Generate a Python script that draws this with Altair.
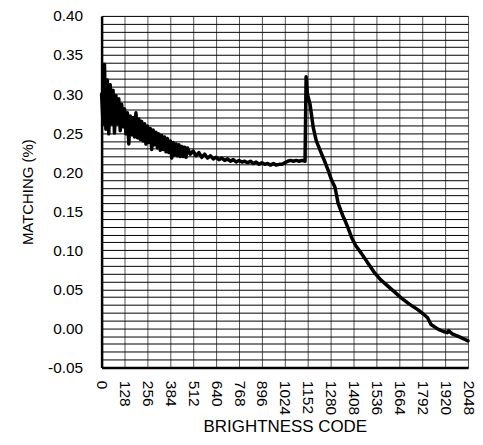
import altair as alt
import pandas as pd

# Brightness code (x) and matching (%) values
codes = [
    0, 8, 16, 24, 32, 40, 48, 56, 64, 72, 80, 88, 96, 104, 112, 120, 128, 136, 144, 152,
    160, 168, 176, 184, 192, 200, 208, 216, 224, 232, 240, 248, 256, 264, 272, 280, 288, 296,
    304, 312, 320, 328, 336, 344, 352, 360, 368, 376, 384, 392, 400, 408, 416, 424, 432, 440,
    448, 456, 464, 472, 480,
    496, 512, 528, 544, 560, 576, 592, 608, 624, 640, 656, 672, 688, 704, 720, 736, 752, 768,
    784, 800, 816, 832, 848, 864, 880, 896, 912, 928, 944, 960, 976, 992, 1008, 1024, 1040,
    1056, 1072, 1088, 1104, 1120, 1137,
    1143, 1150, 1165, 1183, 1200, 1230, 1250, 1267, 1285, 1304, 1322, 1350, 1359, 1380, 1396,
    1420, 1452, 1490, 1526, 1560, 1600, 1640, 1674, 1720, 1767, 1800, 1822, 1841, 1880, 1910,
    1933, 1940, 1960, 2000, 2048,
]
matching = [
    0.300, 0.262, 0.338, 0.255, 0.318, 0.249, 0.312, 0.262, 0.305, 0.250, 0.298, 0.262, 0.294,
    0.253, 0.287, 0.258, 0.281, 0.249, 0.276, 0.236, 0.272, 0.248, 0.270, 0.245, 0.276, 0.244,
    0.268, 0.242, 0.265, 0.240, 0.262, 0.236, 0.259, 0.238, 0.256, 0.229, 0.254, 0.235, 0.251,
    0.231, 0.249, 0.228, 0.247, 0.229, 0.245, 0.226, 0.243, 0.225, 0.240, 0.218, 0.238, 0.222,
    0.236, 0.221, 0.235, 0.220, 0.233, 0.220, 0.232, 0.219, 0.231,
    0.223, 0.227, 0.221, 0.225, 0.219, 0.223, 0.218, 0.221, 0.217, 0.219, 0.216, 0.218, 0.215,
    0.217, 0.214, 0.216, 0.213, 0.215, 0.213, 0.214, 0.212, 0.214, 0.211, 0.213, 0.210, 0.212,
    0.210, 0.211, 0.209, 0.211, 0.209, 0.210, 0.210, 0.212, 0.214, 0.215, 0.214, 0.215, 0.214,
    0.215, 0.214,
    0.322, 0.300, 0.287, 0.257, 0.240, 0.223, 0.212, 0.202, 0.190, 0.181, 0.160, 0.143, 0.139,
    0.127, 0.117, 0.106, 0.096, 0.083, 0.071, 0.062, 0.054, 0.046, 0.039, 0.031, 0.024, 0.018,
    0.0136, 0.005, -0.001, -0.004, -0.0055, -0.003, -0.007, -0.011, -0.016,
]

x_ticks = [0, 128, 256, 384, 512, 640, 768, 896, 1024, 1152, 1280, 1408, 1536, 1664, 1792, 1920, 2048]
y_grid = [round(-0.05 + 0.01 * i, 2) for i in range(46)]

df = pd.DataFrame({"code": codes, "matching": matching})

FONT = "Liberation Sans"
MINUS = "\u2212"

chart = (
    alt.Chart(df)
    .mark_line(color="black", strokeWidth=3.5, strokeJoin="round", strokeCap="round")
    .encode(
        x=alt.X(
            "code:Q",
            scale=alt.Scale(domain=[0, 2048], nice=False, zero=False),
            axis=alt.Axis(
                title="BRIGHTNESS CODE",
                values=x_ticks,
                format="d",
                labelAngle=90,
                labelFont=FONT,
                labelFontSize=15.5,
                labelColor="black",
                labelPadding=13,
                labelOverlap=False,
                labelFlush=False,
                tickSize=0,
                domain=True,
                domainColor="black",
                domainWidth=2.5,
                grid=True,
                gridColor="#555555",
                gridWidth=1,
                titleFont=FONT,
                titleFontSize=17,
                titleFontWeight="normal",
                titleColor="black",
                titlePadding=4,
            ),
        ),
        y=alt.Y(
            "matching:Q",
            scale=alt.Scale(domain=[-0.05, 0.40], nice=False, zero=False),
            axis=alt.Axis(
                title="MATCHING (%)",
                values=y_grid,
                labelExpr=(
                    "abs(round(datum.value*100)) % 5 == 0 ? replace(format(datum.value, '.2f'), '"
                    + MINUS
                    + "', '-') : ''"
                ),
                labelFont=FONT,
                labelFontSize=15.5,
                labelColor="black",
                labelPadding=19,
                labelOverlap=False,
                labelFlush=False,
                tickSize=0,
                domain=True,
                domainColor="black",
                domainWidth=2.5,
                grid=True,
                gridColor="#000000",
                gridWidth=1,
                titleFont=FONT,
                titleFontSize=15,
                titleFontWeight="normal",
                titleColor="black",
                titlePadding=12,
            ),
        ),
    )
    .properties(
        width=368,
        height=353,
        autosize=alt.AutoSizeParams(type="none"),
        padding={"left": 94, "top": 7, "right": 7, "bottom": 85},
    )
    .configure_view(stroke="black", strokeWidth=2.5)
    .configure(background="white")
)

chart.save("out.html", embed_options={"renderer": "svg", "actions": False})
